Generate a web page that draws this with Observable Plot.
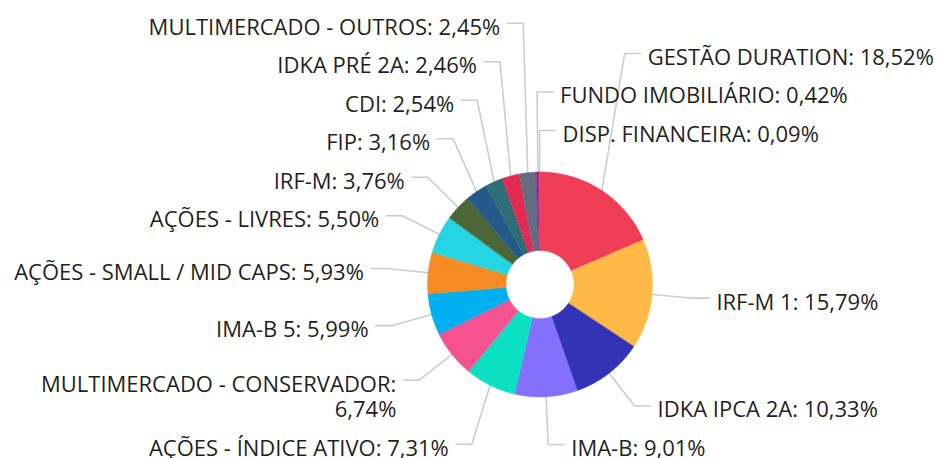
<!DOCTYPE html>
<html><head><meta charset="utf-8">
<script src="https://cdn.jsdelivr.net/npm/d3@7"></script>
<script src="https://cdn.jsdelivr.net/npm/@observablehq/plot@0.6"></script>
<style>html,body{margin:0;padding:0;background:#fff;} #chart{width:938px;height:458px;}</style>
</head><body><div id="chart"></div>
<script>
const categories = ["GESTÃO DURATION","IRF-M 1","IDKA IPCA 2A","IMA-B","AÇÕES - ÍNDICE ATIVO","MULTIMERCADO - CONSERVADOR","IMA-B 5","AÇÕES - SMALL / MID CAPS","AÇÕES - LIVRES","IRF-M","FIP","CDI","IDKA PRÉ 2A","MULTIMERCADO - OUTROS","FUNDO IMOBILIÁRIO","DISP. FINANCEIRA"];
const values = [18.52,15.79,10.33,9.01,7.31,6.74,5.99,5.93,5.50,3.76,3.16,2.54,2.46,2.45,0.42,0.09];
const colors = ["#ee3d55","#ffb946","#3333b6","#8371fd","#0be0c2","#f6528f","#00b0f0","#f58b22","#25d5e3","#4c6637","#245a8a","#2f6e76","#e32a52","#646d80","#9c1a8c","#e0509a"];

const W = 938, H = 458;
const cx = 539.5, cy = 284, R = 112.5, R0 = 34;
const len1 = 41.5, len2 = 16, gap = 7, rowH = 38.5, lineH = 25.5, edge = 4;
const fontSize = 22, fontFamily = "'Open Sans', sans-serif";

const fmt = v => v.toFixed(2).replace(".", ",") + "%";
const data = categories.map((c, i) => ({name: c, value: values[i]}));
const arcs = d3.pie().sort(null).value(d => d.value).startAngle(0).endAngle(2 * Math.PI)(data);

// slice outlines (outer arc then inner arc back)
const slicePts = [];
for (const a of arcs) {
  const n = Math.max(2, Math.ceil((a.endAngle - a.startAngle) / (Math.PI / 360)));
  const ang = k => a.startAngle + (a.endAngle - a.startAngle) * k / n;
  for (let k = 0; k <= n; k++) slicePts.push({name: a.data.name, x: cx + R * Math.sin(ang(k)), y: cy - R * Math.cos(ang(k))});
  for (let k = n; k >= 0; k--) slicePts.push({name: a.data.name, x: cx + R0 * Math.sin(ang(k)), y: cy - R0 * Math.cos(ang(k))});
}

// text measuring for wrapping
const ctx = document.createElement("canvas").getContext("2d");
ctx.font = `${fontSize}px ${fontFamily}`;
function wrap(text, avail) {
  if (ctx.measureText(text).width <= avail) return [text];
  const words = text.split(" ");
  const lines = [];
  let cur = "";
  for (const w of words) {
    const t = cur ? cur + " " + w : w;
    if (cur && ctx.measureText(t).width > avail) { lines.push(cur); cur = w; }
    else cur = t;
  }
  if (cur) lines.push(cur);
  return lines;
}

const labels = arcs.map(a => {
  const th = (a.startAngle + a.endAngle) / 2;
  const s = Math.sin(th), c = Math.cos(th);
  const side = s > -0.05 ? 1 : -1;
  const ex = cx + (R + len1) * s, y0 = cy - (R + len1) * c;
  const tx = ex + side * (len2 + gap);
  const avail = side > 0 ? W - edge - tx : tx - edge;
  const text = `${a.data.name}: ${fmt(a.data.value)}`;
  return {name: a.data.name, th, side, sx: cx + R * s, sy: cy - R * c, ex, y: y0, tx, upper: y0 < cy, lines: wrap(text, avail)};
});

// resolve overlaps: upper halves pushed away from centre upward, lower halves downward
for (const side of [1, -1]) {
  for (const upper of [true, false]) {
    const g = labels.filter(d => d.side === side && d.upper === upper)
      .sort((a, b) => side > 0 ? a.th - b.th : b.th - a.th);
    if (upper) {
      for (let i = g.length - 2; i >= 0; i--)
        g[i].y = Math.min(g[i].y, g[i + 1].y - rowH - (g[i].lines.length - 1) * lineH);
    } else {
      for (let i = 1; i < g.length; i++)
        g[i].y = Math.max(g[i].y, g[i - 1].y + rowH + (g[i - 1].lines.length - 1) * lineH);
    }
  }
}

const leaderPts = labels.flatMap(d => [
  {name: d.name, x: d.sx, y: d.sy},
  {name: d.name, x: d.ex, y: d.y},
  {name: d.name, x: d.ex + d.side * len2, y: d.y}
]);

const textOpts = side => ({
  x: "tx", y: "y", text: d => d.lines.join("\n"),
  textAnchor: side > 0 ? "start" : "end", lineAnchor: "top",
  lineHeight: lineH / fontSize, fontSize, fontFamily, fill: "#1f1f1f",
  dy: 3.5 - (0.71 * lineH - 0.357 * fontSize)
});

const chart = Plot.plot({
  width: W, height: H, margin: 0,
  x: {type: "linear", domain: [0, W], range: [0, W], axis: null},
  y: {type: "linear", domain: [0, H], range: [0, H], axis: null},
  color: {type: "ordinal", domain: categories, range: colors},
  style: {background: "#fff", overflow: "visible"},
  marks: [
    Plot.line(leaderPts, {x: "x", y: "y", z: "name", stroke: "#cccccc", strokeWidth: 1.6}),
    Plot.line(slicePts, {x: "x", y: "y", z: "name", fill: "name", stroke: "name", strokeWidth: 0.4, curve: "linear-closed"}),
    Plot.text(labels.filter(d => d.side > 0), textOpts(1)),
    Plot.text(labels.filter(d => d.side < 0), textOpts(-1))
  ]
});
document.getElementById("chart").append(chart);
</script>
</body></html>
